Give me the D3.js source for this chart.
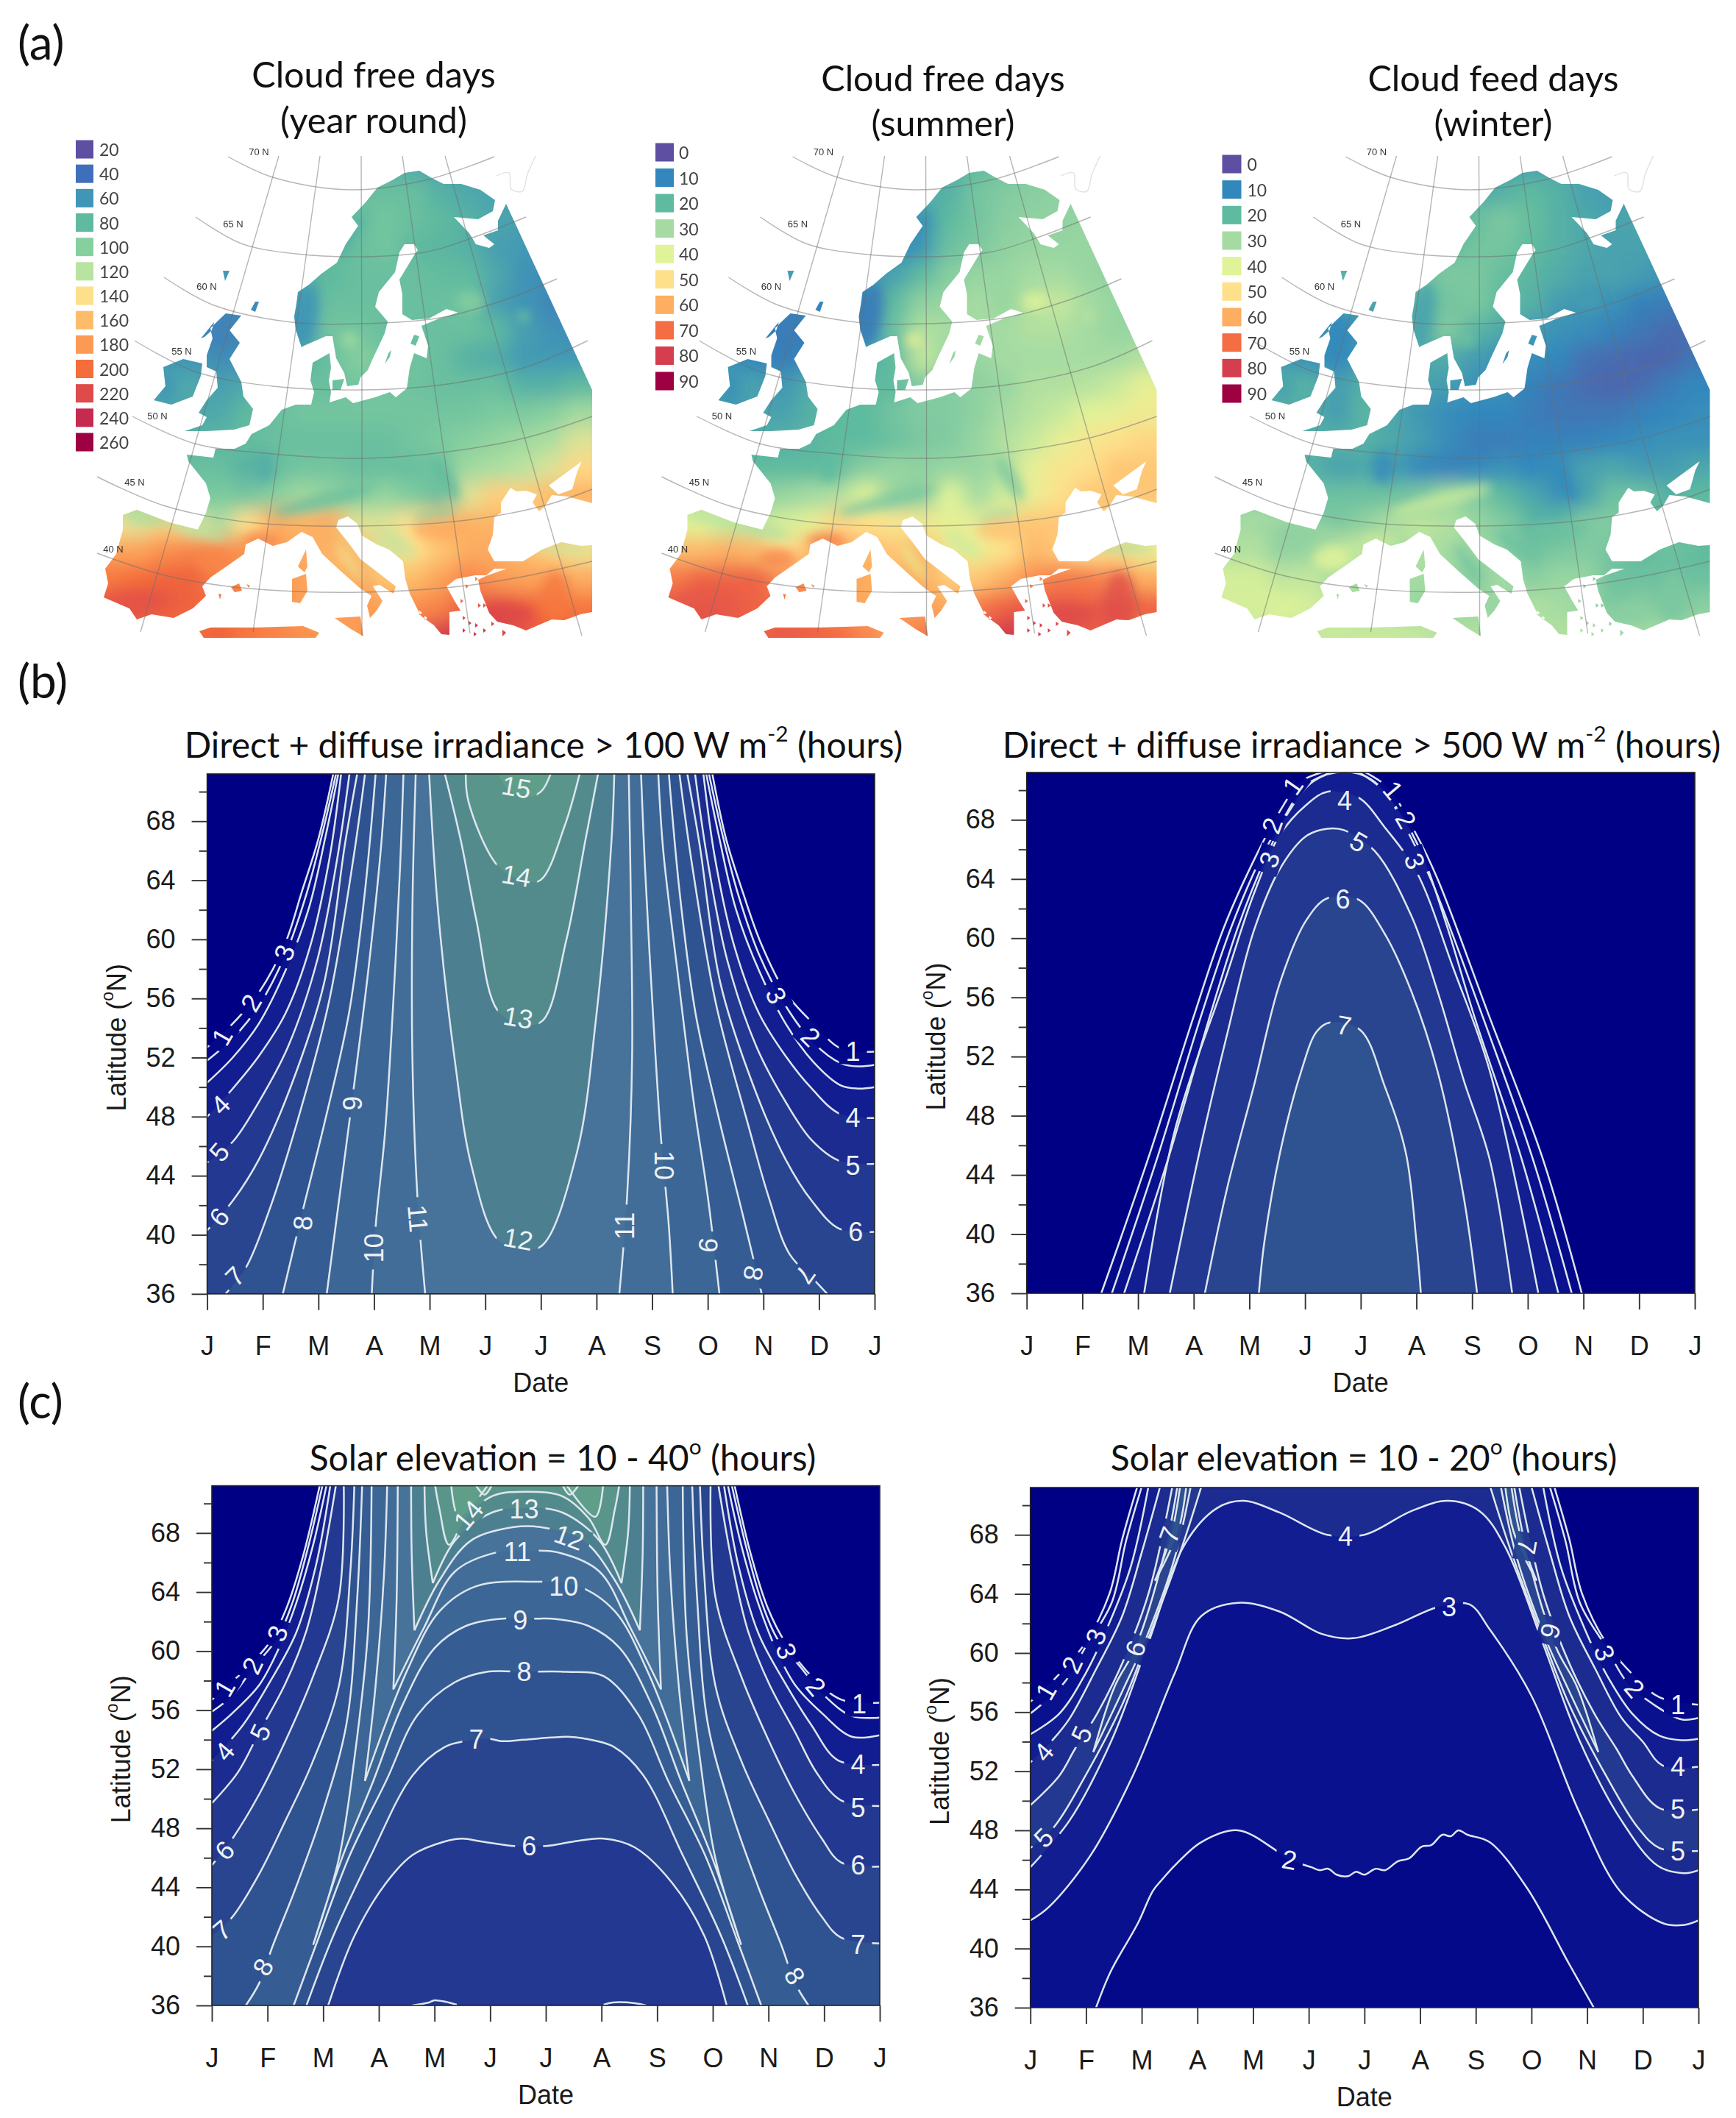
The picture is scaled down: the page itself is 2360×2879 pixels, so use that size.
<!DOCTYPE html>
<html><head><meta charset="utf-8">
<script src="https://cdn.jsdelivr.net/npm/d3@7"></script>
<style>html,body{margin:0;background:#fff}svg{display:block}</style></head>
<body><svg id="c" width="2360" height="2879"></svg>
<script>
/* ---------- labels ---------- */
const months=['J','F','M','A','M','J','J','A','S','O','N','D','J'];
const latMajor=[36,40,44,48,52,56,60,64,68];
const latMinor=[38,42,46,50,54,58,62,66,70];
const legendYear=[20,40,60,80,100,120,140,160,180,200,220,240,260];
const legendYearColors=['#5e4fa2','#3f6fba','#4096b6','#5fba9f','#86cf9f','#b9e3a0','#fee08b','#fdbc6a','#fc9a55','#f46d3a','#df4a4a','#c62a4e','#9e0142'];
const legendSeason=[0,10,20,30,40,50,60,70,80,90];
const legendSeasonColors=['#5e4fa2','#3288bd','#5fbb9f','#a5dba2','#e0f398','#fee08b','#fdae61','#f46d43','#d53e4f','#9e0142'];
const contourLevels=[0,2,3,4,5,6,8,10,11.5,12.5,14,16];
const contourColors=['#000085','#050c8b','#0c1690','#162490','#1f3190','#263f8f','#325892','#3f6a97','#47729a','#4c8090','#56908a','#62a488'];
const graticuleLabels=[['70 N',352,206],['65 N',317,304],['60 N',281,389],['55 N',247,477],['50 N',214,565],['45 N',183,655],['40 N',154,746]];

/* ---------- Europe outline and graticule, in map units ---------- */
const mainland=[[410,472],[402,448],[400,430],[403,413],[405,397],[420,387],[437,372],[458,357],[470,332],[487,307],[478,295],[497,275],[513,255],[533,245],[550,235],[570,232],[587,242],[603,250],[627,250],[653,258],[673,272],[670,287],[650,298],[617,295],[638,317],[647,332],[665,337],[672,332],[657,320],[677,313],[677,300],[688,277],[805,530],[805,684],[772,675],[750,673],[741,688],[733,695],[724,683],[730,672],[715,667],[702,668],[694,663],[681,683],[681,697],[672,703],[670,727],[663,747],[672,763],[711,763],[737,747],[763,737],[789,742],[805,741],[805,832],[789,835],[767,843],[750,842],[715,857],[698,850],[676,845],[665,833],[653,803],[650,788],[663,782],[689,773],[672,773],[661,782],[646,782],[620,787],[607,797],[618,817],[626,830],[611,832],[611,863],[600,862],[590,850],[572,837],[557,807],[551,787],[548,763],[529,747],[512,740],[492,728],[486,712],[473,702],[460,707],[457,717],[473,737],[490,760],[507,773],[538,797],[535,807],[516,795],[507,797],[520,817],[512,830],[503,840],[499,823],[505,810],[490,800],[464,777],[438,753],[425,730],[410,723],[390,737],[371,742],[351,732],[334,740],[332,753],[312,767],[286,785],[275,797],[280,810],[262,827],[236,840],[206,835],[186,842],[176,827],[141,812],[147,793],[143,773],[158,753],[167,720],[167,700],[186,693],[230,710],[269,720],[280,697],[286,677],[280,657],[256,627],[254,618],[290,622],[293,610],[319,610],[334,603],[342,590],[366,578],[383,557],[402,550],[423,550],[427,533],[422,517],[425,493],[448,480],[450,500],[447,517],[450,533],[448,547],[470,540],[480,548],[510,540],[530,533],[538,540],[553,528],[557,500],[563,480],[580,487],[582,470],[573,443],[597,433],[623,425],[607,420],[583,433],[560,435],[547,427],[547,400],[543,380],[563,347],[568,340],[563,332],[550,332],[543,343],[537,370],[515,397],[510,417],[527,437],[523,453],[507,487],[500,503],[490,513],[487,523],[472,525],[468,507],[457,487],[452,457],[443,457],[413,470]];
const islands=[
[[251,586],[275,578],[281,567],[270,561],[281,544],[296,527],[294,505],[281,499],[281,483],[289,460],[286,446],[307,426],[328,429],[312,449],[326,466],[312,488],[328,519],[331,539],[344,556],[339,578],[318,584],[281,586]],
[[209,544],[225,525],[222,499],[249,488],[275,494],[273,511],[262,539],[233,550]],
[[303,368],[312,368],[306,382]],[[341,421],[347,410],[352,410],[347,424]],[[273,460],[291,438],[288,449],[278,458]],
[[452,517],[468,515],[463,530],[452,530]],[[523,495],[528,480],[532,476],[530,485]],[[558,467],[563,455],[570,457],[565,470]],
[[405,770],[416,747],[418,770],[414,778]],[[397,787],[416,780],[418,803],[408,820],[397,818]],
[[314,798],[325,793],[329,803],[319,805]],[[297,807],[301,808],[299,815]],[[335,794],[340,796],[338,799]],
[[455,840],[490,838],[494,865],[477,855]],
[[271,858],[286,853],[347,853],[412,851],[434,860],[429,867],[277,867]],
[[633,794],[637,797],[633,800]],[[646,784],[650,787],[646,790]],[[650,820],[654,823],[650,826]],[[657,820],[661,823],[657,826]],[[626,814],[630,817],[626,820]],[[629,837],[633,840],[629,843]],[[637,844],[641,847],[637,850]],[[646,847],[650,850],[646,853]],[[657,854],[661,857],[657,860]],[[668,845],[672,848],[668,851]],[[683,856],[688,860],[683,865]],[[629,854],[633,857],[629,860]],[[644,859],[648,862],[644,865]],[[570,830],[574,833],[570,836]],[[577,837],[581,840],[577,843]]];
const lakes=[[[791,627],[785,640],[778,665],[759,672],[746,660]]];
const parallels=[
[[310,213],[371,241],[476,258],[582,244],[672,213]],
[[266,295],[328,331],[402,345],[492,349],[582,342],[651,320],[715,295]],
[[223,377],[291,415],[397,438],[492,440],[598,432],[688,407],[757,379]],
[[183,463],[265,505],[371,525],[492,530],[609,522],[715,499],[799,463]],
[[180,566],[265,603],[371,617],[492,623],[609,614],[715,595],[805,566]],
[[132,648],[222,687],[339,710],[492,715],[635,707],[741,687],[805,665]],
[[132,752],[228,783],[339,800],[492,805],[625,797],[715,783],[805,763]]];
const meridians=[[[379,212],[285,535],[191,859]],[[435,212],[390,535],[344,859]],[[491,212],[492,535],[492,864]],[[547,212],[592,535],[639,861]],[[605,212],[696,535],[791,864]]];
const russianCoast=[[675,239],[692,235],[695,257],[710,260],[717,237],[728,212]];

/* ---------- cloud-free-day fields: 18 x 18 cells ---------- */
const fieldYear=[
[70,70,70,70,70,70,70,70,72,74,74,70,68,66,64,62,60,60],
[75,75,75,75,75,75,75,78,82,84,85,85,75,70,68,65,62,60],
[75,75,75,75,75,75,75,78,82,85,90,85,80,75,68,65,60,58],
[70,70,70,70,70,70,72,75,80,85,90,80,78,75,65,62,60,56],
[60,60,60,60,60,62,65,75,80,85,85,85,82,80,70,58,55,52],
[55,55,55,55,55,55,58,62,85,85,85,85,85,90,65,60,52,52],
[55,55,55,55,50,50,55,60,90,90,85,85,85,85,80,65,58,55],
[60,60,60,60,55,58,65,75,85,100,90,88,85,75,72,62,62,62],
[70,70,70,70,65,70,78,85,85,90,90,88,85,85,85,75,75,80],
[68,68,65,70,70,80,85,90,90,90,90,90,90,90,95,95,100,110],
[75,75,75,78,78,82,85,85,85,85,85,90,95,100,105,110,115,130],
[85,85,85,85,85,75,85,90,90,85,85,85,90,110,115,120,130,145],
[110,100,95,90,95,90,100,110,105,100,105,95,85,130,150,150,160,165],
[140,130,150,130,115,140,170,165,170,130,130,140,160,165,165,160,155,150],
[175,175,185,190,185,185,175,170,165,160,130,140,155,170,170,160,150,135],
[195,200,205,205,190,185,180,175,165,170,155,160,175,190,180,175,175,170],
[215,215,210,205,200,200,190,175,175,180,175,185,190,210,215,205,200,195],
[210,205,200,200,205,195,190,185,180,178,190,205,225,240,230,215,205,205]];
const fieldSummer=[
[18,18,18,18,18,18,18,18,18,18,18,20,22,24,25,26,26,26],
[20,20,20,20,20,20,20,20,18,18,18,23,25,26,27,27,28,28],
[20,20,20,20,20,20,20,18,15,13,20,23,26,27,27,28,28,28],
[18,18,18,18,18,18,16,14,12,13,22,24,27,28,28,28,28,28],
[14,14,14,14,14,14,13,13,15,20,26,28,28,30,30,28,27,27],
[10,10,10,10,10,10,9,8,20,27,28,30,28,33,35,30,28,26],
[10,10,10,10,8,8,9,10,22,32,30,30,30,32,32,30,28,28],
[12,12,12,10,8,10,14,18,20,35,28,28,30,30,30,30,30,32],
[15,15,14,15,13,17,19,20,20,25,25,27,28,32,32,33,36,42],
[14,14,13,15,15,18,20,20,23,25,25,27,30,33,36,40,42,45],
[18,18,18,18,18,19,20,20,22,24,25,28,32,36,42,47,50,52],
[20,20,20,20,20,20,22,26,28,27,28,28,32,42,48,50,55,55],
[30,28,27,27,28,30,32,40,28,27,40,30,37,43,50,55,55,55],
[40,40,35,35,38,42,52,50,48,46,42,42,50,55,55,55,55,50],
[58,58,60,58,50,58,62,58,55,58,48,45,50,58,55,50,52,45],
[68,72,72,72,65,62,62,60,60,60,54,55,60,65,68,68,65,60],
[75,76,74,72,70,70,65,60,65,62,60,68,72,75,74,72,78,72],
[74,74,74,72,74,72,70,66,62,68,72,76,80,82,78,74,74,70]];
const fieldWinter=[
[15,15,15,15,15,15,15,15,15,15,15,15,15,15,15,15,15,15],
[18,18,18,18,18,18,18,18,18,16,18,20,18,15,14,16,15,14],
[20,20,20,20,20,20,20,22,22,22,24,21,18,16,15,16,15,14],
[20,20,20,20,20,20,20,22,22,23,23,20,18,16,15,15,14,13],
[18,18,18,18,18,18,20,22,24,24,21,19,17,15,15,14,12,11],
[15,15,15,15,15,15,16,18,23,24,20,18,14,13,12,9,8,7],
[12,12,12,12,12,12,15,18,25,19,16,14,12,11,9,7,5,5],
[13,13,13,12,10,13,15,16,17,14,12,11,10,6,5,4,4,7],
[18,18,18,18,14,18,16,15,14,12,12,9,7,5,4,5,8,10],
[17,17,17,17,14,19,16,13,11,10,10,8,7,7,7,9,10,11],
[17,17,18,18,18,18,16,14,11,8,8,9,9,9,10,11,12,12],
[20,20,18,18,15,16,14,10,9,10,12,10,12,15,16,14,14,16],
[26,25,23,22,22,22,22,24,28,25,20,16,12,15,22,22,18,20],
[30,30,27,26,24,27,32,34,32,28,25,20,20,25,25,20,20,20],
[32,32,27,28,36,35,30,32,30,28,28,22,24,25,23,20,22,20],
[38,38,34,35,30,30,30,30,28,26,30,26,28,28,22,22,22,22],
[38,38,40,38,34,30,30,28,28,28,28,32,30,28,24,26,24,26],
[36,36,36,35,36,36,36,35,32,32,30,32,32,32,30,30,30,30]];
/* smaller features: centre x, centre y, half width, half height, tilt */
const featureShapes=[[415,430,14,45,10],[475,320,10,35,35],[300,450,14,25,0],[225,525,14,20,0],[475,462,12,10,0],[640,410,18,12,0],[712,430,8,8,0],[440,680,70,10,-15],[360,635,14,22,0],[605,650,10,35,-30],[590,700,30,7,-10],[600,720,40,15,0],[540,740,30,12,35],[190,815,40,12,0],[690,835,35,15,0],[755,812,20,35,0],[268,720,40,8,15],[200,705,35,8,10],[355,735,25,10,0],[290,760,25,15,0],[760,745,40,7,0],[475,765,6,30,-35]];
const featureYear=[60,74,50,60,112,100,90,85,72,80,100,170,125,215,222,195,120,115,190,190,125,135];
const featureSummer=[8,12,8,12,42,40,34,24,20,24,30,56,37,74,77,76,32,34,68,66,32,42];
const featureWinter=[15,21,10,15,22,14,8,36,11,10,16,22,22,38,26,24,28,30,36,40,22,22];

/* ---------- contours: [month position, latitude] ---------- */
const T=71.25;
const irr100=[
{v:1,lines:[[[0,52.7],[.46,54.3],[.93,56.4],[1.41,59.8],[1.7,63.2],[2,66.8],[2.27,T],[9.08,T],[9.33,66.8],[9.63,63.2],[9.95,59.8],[10.4,56.4],[10.9,54.3],[11.4,52.6],[12,52.4]]]},
{v:2,lines:[[[0,51.8],[.46,53.3],[.93,55.5],[1.41,59],[1.78,63],[2.06,67],[2.32,T],[9.02,T],[9.27,67],[9.55,63],[9.92,59],[10.4,55.5],[10.9,53],[11.4,51.6],[11.7,51.4],[12,51.5]]]},
{v:3,lines:[[[0,50.3],[.46,52],[.93,54.3],[1.41,57.9],[1.82,62],[2.13,67],[2.36,T],[8.97,T],[9.2,67],[9.51,62],[9.92,57.9],[10.4,54.3],[10.9,51.7],[11.4,50.1],[11.7,49.9],[12,50]]]},
{v:4,lines:[[[0,48],[.46,49.9],[.93,52.1],[1.41,55],[1.85,59.5],[2.2,65.5],[2.41,T],[8.92,T],[9.13,65.5],[9.48,59.5],[9.92,55],[10.4,52.1],[10.87,49.9],[11.37,48.2],[12,47.9]]]},
{v:5,lines:[[[0,44.9],[.46,46.3],[.93,49],[1.45,52.7],[1.98,58.6],[2.34,65.5],[2.56,T],[8.77,T],[8.99,65.5],[9.35,58.6],[9.88,52.7],[10.4,49],[10.87,46.4],[11.37,45],[12,44.8]]]},
{v:6,lines:[[[0,40.3],[.46,42.3],[.93,45.1],[1.5,50],[2.1,57],[2.48,66.5],[2.70,T],[8.63,T],[8.85,66.5],[9.23,57],[9.83,50],[10.4,45.1],[10.87,42.3],[11.37,40.4],[12,40.2]]]},
{v:7,lines:[[[.33,36],[.7,37.8],[1.12,41.7],[1.6,47.4],[2.18,55.6],[2.63,65.5],[2.84,T],[8.49,T],[8.7,65.5],[9.15,55.6],[9.73,47.4],[10.1,42.5],[10.47,38.7],[10.95,36.8],[11.15,36]]]},
{v:8,lines:[[[1.36,36],[1.69,41.2],[2.15,48.2],[2.55,55],[2.83,63],[3.03,T],[8.3,T],[8.5,63],[8.78,55],[9.18,48.2],[9.64,41.2],[9.97,36]]]},
{v:9,lines:[[[2.15,36],[2.38,42.6],[2.6,48.9],[2.9,58],[3.12,66],[3.22,T],[8.11,T],[8.2,66],[8.45,58],[8.75,48.9],[9,42.6],[9.21,36]]]},
{v:10,lines:[[[2.96,36],[3.03,40.6],[3.2,47],[3.35,56],[3.47,65],[3.53,T],[7.8,T],[7.87,65],[8,56],[8.15,47],[8.3,40.6],[8.37,36]]]},
{v:11,lines:[[[3.92,36],[3.78,42.6],[3.69,52],[3.69,62],[3.75,T],[7.58,T],[7.62,62],[7.64,52],[7.55,42.6],[7.41,36]]]},
{v:12,lines:[[[3.99,T],[4.15,62],[4.46,51.6],[4.75,44.7],[5.22,39.7],[5.67,39],[6.03,39.3],[6.65,45.6],[6.99,54.6],[7.27,66.7],[7.32,T]]]},
{v:13,lines:[[[4.27,T],[4.56,66.7],[4.84,61.3],[5.22,55.2],[5.67,54.2],[6.03,54.5],[6.46,60],[6.8,66.7],[7.03,T]]]},
{v:14,lines:[[[4.65,T],[4.7,69.3],[5.22,65],[5.67,64],[5.99,64],[6.42,67.6],[6.7,T]]]},
{v:15,lines:[[[5.22,T],[5.4,70.2],[5.7,69.6],[6,70],[6.18,T]]]}];
const irr100Labels=[['1',.27,53.4,-60],['2',.79,55.7,-60],['3',1.39,59.1,-70],['4',.24,48.8,-45],['5',.22,45.6,-50],['6',.22,41.2,-50],['7',.5,37.2,-45],['8',1.72,40.8,-85],['9',2.62,48.9,-90],['10',3,39.1,-90],['11',3.79,41.1,85],['12',5.59,39.7,10],['13',5.59,54.7,10],['14',5.56,64.3,10],['15',5.56,70.3,10],['11',7.51,40.6,-90],['10',8.21,44.7,90],['9',9.01,39.3,95],['8',9.82,37.4,100],['7',10.75,37.3,125],['6',11.66,40.2,0],['5',11.61,44.7,0],['4',11.61,47.9,0],['1',11.61,52.4,0],['2',10.85,53.4,45],['3',10.23,56.2,65]];

const irr500=[
{v:1,lines:[[[1.34,36],[2.19,45.2],[2.99,54.6],[3.55,60.8],[4.15,65.8],[4.55,68.6],[4.93,70.6],[5.35,T],[6.06,T],[6.48,70.2],[7,67],[7.38,64],[8.32,54.6],[9.26,45.2],[9.97,36]]]},
{v:2,lines:[[[1.53,36],[2.35,45.2],[3.12,54.6],[3.68,60.8],[4.23,65.6],[4.6,68],[5,70.3],[5.5,T],[5.95,T],[6.4,70],[6.9,66.8],[7.28,63.8],[8.2,54.6],[9.08,45.2],[9.79,36]]]},
{v:3,lines:[[[1.75,36],[2.55,45.2],[3.28,54.6],[3.8,60.8],[4.3,65.5],[4.7,68.5],[5.15,70.6],[5.7,T],[6.2,70.7],[6.7,68.5],[7.12,65.5],[7.55,60.8],[8.05,54.6],[8.88,45.2],[9.55,36]]]},
{v:4,lines:[[[2.11,36],[2.66,47],[3.6,57.6],[4.08,63],[4.55,67],[5.02,69],[5.4,69.9],[5.96,69.5],[6.43,67.5],[7,64.5],[7.66,58],[8.32,51],[9.19,36]]]},
{v:5,lines:[[[2.57,36],[3.13,46],[3.6,53.5],[4.08,60.5],[4.55,64.7],[5.02,66.9],[5.4,67.4],[5.7,67.3],[6.25,65.9],[6.91,61.5],[7.38,56.4],[7.85,50.4],[8.32,45],[8.72,36]]]},
{v:6,lines:[[[3.2,36],[3.6,43.1],[4.08,50],[4.55,57],[5.02,61.2],[5.4,62.7],[5.96,62.6],[6.43,60.3],[6.91,56.4],[7.38,51],[7.85,42.5],[8.09,36]]]},
{v:7,lines:[[[4.17,36],[4.27,39.5],[4.55,45.5],[4.93,51],[5.21,53.7],[5.44,54.3],[5.99,53.8],[6.43,50],[6.81,45.5],[7,39.5],[7.08,36]]]}];
const irr500Labels=[['1',4.78,70.3,-55],['2',4.41,67.6,-70],['3',4.36,65.3,-70],['4',5.71,69.3,0],['5',5.96,66.5,30],['6',5.68,62.6,0],['7',5.7,54.1,10],['1',6.58,70,50],['2',6.81,68,60],['3',6.97,65.2,70]];

const elev40=[
{v:1,lines:[[[0,56.7],[.23,57.5],[.56,58.6],[1.04,60.6],[1.35,63],[1.65,66.6],[1.94,T],[9.39,T],[9.68,66.6],[9.98,63],[10.3,60.6],[10.8,58.2],[11.32,56.7],[12,56.5]]]},
{v:2,lines:[[[0,55.9],[.37,57],[.75,58.9],[1.18,60.9],[1.45,63.3],[1.72,66.9],[1.99,T],[9.34,T],[9.61,66.9],[9.88,63.3],[10.15,60.9],[10.58,58.9],[11,57],[11.5,55.6],[12,55.5]]]},
{v:3,lines:[[[0,54.6],[.37,55.8],[.85,57.7],[1.18,60],[1.52,63.3],[1.82,67.2],[2.06,T],[9.27,T],[9.51,67.2],[9.81,63.3],[10.15,60],[10.48,57.7],[10.96,55.8],[11.5,54.2],[12,54.3]]]},
{v:4,lines:[[[0,52.6],[.56,55],[1.04,57.9],[1.51,61.2],[1.87,65.8],[2.13,T],[9.2,T],[9.46,65.8],[9.82,61.2],[10.29,57.9],[10.77,55],[11.25,52.6],[12,52.3]]]},
{v:5,lines:[[[0,49.7],[.47,51.8],[.85,54.5],[1.32,57.8],[1.7,61.4],[1.98,65.9],[2.23,T],[9.1,T],[9.35,65.9],[9.63,61.4],[10.01,57.8],[10.48,54.5],[10.86,51.8],[11.3,49.9],[12,49.5]]]},
{v:6,mode:'arc',lines:[[[0,45.5],[.37,47.3],[.85,50.3],[1.32,53.9],[1.8,58.1],[2.28,63.6],[2.37,T],[8.96,T],[9.05,63.6],[9.53,58.1],[10.01,53.9],[10.48,50.3],[10.96,47.3],[11.3,45.7],[12,45.4]],
 [[2.09,36],[2.56,40.7],[3.13,44.3],[3.61,46.2],[4.18,47.1],[4.5,47.3],[4.85,47.1],[5.42,46.8],[6,46.8],[6.5,47.1],[7.04,47.3],[7.6,46.7],[8.27,44.3],[8.85,40.7],[9.25,36]]]},
{v:7,mode:'arc',lines:[[[0,40.7],[.37,42],[.85,44.9],[1.32,48.5],[1.8,52.4],[2.28,57.6],[2.49,65.5],[2.56,T],[8.77,T],[8.84,65.5],[9.05,57.6],[9.53,52.4],[10.01,48.5],[10.48,44.9],[10.96,42],[11.3,40.6],[12,40.2]],
 [[1.7,36],[2.18,40.7],[2.85,46.1],[3.61,51.6],[4.18,53.5],[4.56,53.9],[5,54.05],[5.2,53.9],[5.61,54],[6.1,54.15],[6.4,54.2],[6.66,54.1],[7.23,53.5],[7.75,51.6],[8.47,46.1],[9.15,40.7],[9.63,36]]]},
{v:8,mode:'arc',lines:[[[.61,36],[.85,37.5],[1.09,40],[1.51,44],[1.99,49.1],[2.42,55.1],[2.61,63.5],[2.7,T],[8.63,T],[8.72,63.5],[8.91,55.1],[9.34,49.1],[9.82,44],[10.24,40],[10.48,37.5],[10.72,36]],
 [[1.47,36],[1.9,40.4],[2.47,46.1],[3.13,51.2],[3.7,55.7],[4.37,57.9],[4.94,58.6],[5.61,58.6],[6.37,58.6],[7.04,58.3],[7.66,55.7],[8.2,51.2],[8.87,46.1],[9.44,40.4],[9.87,36]]]},
{v:9,lines:[[[2.87,T],[2.8,61.1],[2.56,52.7],[2.28,45.9],[1.82,40.1],[2.33,45.9],[2.9,51.2],[3.42,56.3],[4,60.2],[4.56,61.7],[5.23,62.2],[5.85,62.2],[6.1,62.2],[6.77,61.7],[7.33,60.2],[7.91,56.3],[8.43,51.2],[9,45.9],[9.51,40.1],[9.05,45.9],[8.77,52.7],[8.53,61.1],[8.46,T]]]},
{v:10,lines:[[[3.15,T],[3.09,65],[2.94,57.6],[2.75,51.2],[3.51,58.7],[4.09,62.7],[4.75,64.4],[5.8,64.7],[6.58,64.4],[7.24,62.7],[7.82,58.7],[8.58,51.2],[8.39,57.6],[8.24,65],[8.18,T]]]},
{v:11,lines:[[[3.34,T],[3.32,63.6],[3.26,57.4],[3.8,61.5],[4.37,65.4],[5.13,66.7],[5.67,66.8],[6.2,66.7],[6.96,65.4],[7.53,61.5],[8.07,57.4],[8.01,63.6],[7.99,T]]]},
{v:12,lines:[[[3.58,T],[3.59,66.6],[3.64,61.4],[4.09,64.8],[4.66,67.5],[5.42,68.4],[5.9,68.4],[6.67,67.5],[7.24,64.8],[7.69,61.4],[7.74,66.6],[7.75,T]]]},
{v:13,lines:[[[3.82,T],[3.85,68.1],[3.97,64.6],[4.37,67.5],[5.04,69.4],[5.67,69.7],[6.29,69.4],[6.96,67.5],[7.36,64.6],[7.48,68.1],[7.51,T]]]},
{v:14,lines:[[[4.01,T],[4.09,69.6],[4.26,67.2],[4.56,69],[5.04,70.5],[5.67,70.8],[6.29,70.5],[6.77,69],[7.07,67.2],[7.24,69.6],[7.32,T]]]},
{v:15,lines:[[[4.3,T],[4.44,69.1],[4.96,T]],[[6.37,T],[6.89,69.1],[7.03,T]]]},
{v:16,lines:[[[4.74,T],[4.9,70.6],[5.03,T]],[[6.3,T],[6.43,70.6],[6.59,T]]]}];
const elev40Extra=[[[3.6,36],[3.9,36.2],[4,36.35],[4.2,36.25],[4.4,36.05]],[[7.04,36.05],[7.2,36.2],[7.6,36.15],[7.8,36]]];
const elev40Labels=[['1',.23,57.5,-60],['2',.73,59,-65],['3',1.18,61.2,-70],['4',.23,53.2,-50],['5',.87,54.5,-65],['6',.23,46.5,-45],['7',.18,41.1,-40],['8',.92,38.6,-60],['14',4.61,69.2,-50],['13',5.61,69.6,0],['12',6.42,67.7,20],['11',5.49,66.7,0],['10',6.32,64.4,0],['9',5.54,62.1,0],['8',5.61,58.6,0],['7',4.75,54,0],['6',5.7,46.8,0],['3',10.32,60,70],['2',10.85,57.6,50],['1',11.63,56.4,0],['4',11.61,52.3,0],['5',11.61,49.4,0],['6',11.61,45.5,0],['7',11.61,40.1,0],['8',10.47,38,60]];

const elev20=[
{v:1,lines:[[[0,56.7],[.5,58.5],[.99,60.7],[1.42,64],[1.65,67.7],[1.92,T],[9.41,T],[9.68,67.7],[9.91,64],[10.34,60.7],[10.83,58.5],[11.3,57],[12,56.5]]]},
{v:2,mode:'arc',lines:[[[0,55.9],[.61,58],[.99,60.4],[1.46,63.4],[1.72,67.6],[2,T],[9.33,T],[9.61,67.6],[9.87,63.4],[10.34,60.4],[10.72,58],[11.2,56.5],[11.7,55.5],[12,55.6]],
 [[1.18,36],[1.45,38.5],[1.93,41.7],[2.2,43.9],[2.35,44.6],[2.59,45.6],[3.07,47.2],[3.73,48],[4.39,46.7],[4.6,46.1],[5.05,45.5],[5.2,45.3],[5.35,45.4],[5.5,45],[5.71,44.9],[5.85,45.2],[6,45],[6.2,45.4],[6.37,45.3],[6.6,45.9],[6.8,46.1],[7.03,46.9],[7.2,47],[7.4,47.7],[7.55,47.6],[7.69,48],[7.85,47.7],[8.25,47.2],[8.92,44.1],[9.67,39],[10.12,36]]]},
{v:3,mode:'arc',lines:[[[0,54.5],[.52,55.9],[.99,58.6],[1.37,61.6],[1.8,65.8],[2.12,T],[9.21,T],[9.53,65.8],[9.96,61.6],[10.34,58.6],[10.81,55.9],[11.3,54.4],[11.7,54.1],[12,54.2]],
 [[0,41.9],[.33,42.8],[1.08,46.3],[1.84,51.7],[2.59,58.6],[3.07,62.5],[3.73,63.4],[4.48,62.8],[5.23,61.3],[5.8,61],[6.56,61.9],[7.31,63.1],[7.88,63.3],[8.25,61.6],[9,57.1],[9.85,49.3],[10.61,43.8],[11.37,41.7],[11.75,41.6],[12,41.9]]]},
{v:4,mode:'arc',lines:[[[0,52.6],[.42,54.2],[.71,55.6],[1.18,58.9],[1.65,62.5],[2,66.8],[2.33,T],[9,T],[9.33,66.8],[9.68,62.5],[10.15,58.9],[10.62,55.6],[11,54],[11.35,52.4],[12,52.3]],
 [[0,45.5],[.71,48.7],[1.46,54.1],[2.12,60.7],[2.78,67.4],[3.35,69.8],[3.82,70.3],[4.48,69.5],[5.33,68],[6,68],[6.84,69.6],[7.5,70.3],[8.07,69.6],[8.54,67.1],[9.2,60.7],[9.86,54.1],[10.61,48.7],[11.27,45.6],[11.75,45.1],[12,45.3]]]},
{v:5,mode:'pair',lines:[[[0,49.7],[.52,51.7],[.8,53.5],[1.2,55.9],[1.65,59.3],[2.12,64],[2.55,T]],
 [[0,46.8],[.42,48.2],[.99,51.7],[1.65,56.5],[2.03,60.1],[2.69,66.8],[3.07,T]],
 [[8.78,T],[9.21,64],[9.68,59.3],[10.13,55.9],[10.53,53.5],[10.81,51.7],[11.3,49.5],[12,49.4]],
 [[8.26,T],[8.64,66.8],[9.3,60.1],[9.68,56.5],[10.34,51.7],[10.91,48.2],[11.3,46.8],[12,46.6]]]},
{v:6,mode:'pair',lines:[[[1.13,53.3],[1.51,57.7],[1.89,60.4],[2.41,66.8],[2.64,T]],
 [[1.13,53.3],[1.65,57.4],[2.08,61],[2.59,66.4],[2.88,T]],
 [[8.69,T],[8.92,66.8],[9.44,60.4],[9.82,57.7],[10.2,53.3]],
 [[8.45,T],[8.74,66.4],[9.25,61],[9.68,57.4],[10.2,53.3]]]},
{v:7,mode:'pair',lines:[[[2.24,64.9],[2.53,68],[2.69,T]],[[2.24,64.9],[2.65,68.2],[2.8,T]],
 [[8.64,T],[8.8,68],[9.09,64.9]],[[8.53,T],[8.68,68.2],[9.09,64.9]]]}];
const elev20Labels=[['1',.28,57.4,-60],['2',.75,59.2,-65],['3',1.18,61.1,-70],['6',1.89,60.3,-70],['7',2.5,68,-70],['4',.24,53.3,-50],['5',.92,54.5,-65],['5',.24,47.5,-45],['4',5.66,67.9,0],['3',7.52,63.1,0],['2',4.65,46,10],['7',8.92,67.2,100],['6',9.34,61.5,105],['3',10.31,60,70],['2',10.85,57.6,50],['1',11.63,56.5,0],['4',11.63,52.3,0],['5',11.63,49.4,0],['5',11.63,46.6,0]];

/* ---------- drawing ---------- */
const svg=d3.select('#c');
const defs=svg.append('defs');
const SERIF='Lato, Carlito, sans-serif', ARIAL='"Liberation Sans", Arial, sans-serif';
defs.append('filter').attr('id','soft').attr('x','-10%').attr('y','-10%').attr('width','120%').attr('height','120%')
  .append('feGaussianBlur').attr('stdDeviation',13);
defs.append('filter').attr('id','soft2').attr('x','-30%').attr('y','-30%').attr('width','160%').attr('height','160%')
  .append('feGaussianBlur').attr('stdDeviation',7);

function title(lines,cx,ys,size){lines.forEach((t,i)=>svg.append('text').attr('x',cx).attr('y',ys[i]).attr('text-anchor','middle').attr('dominant-baseline','central').attr('font-family',SERIF).attr('font-size',size).attr('fill','#111').text(t));}
function panelTag(t,x,y){svg.append('text').attr('x',x).attr('y',y).attr('dominant-baseline','central').attr('font-family',SERIF).attr('font-size',64).attr('fill','#111').text(t);}
panelTag('(a)',24,56);panelTag('(b)',24,924);panelTag('(c)',24,1903);

function drawMap(id,offset,field,features,colorScale,legendVals,legendCols,leg){
  const x=d3.scaleLinear().domain([0,805]).range([offset,805+offset]);
  const y=d3.scaleLinear().domain([0,880]).range([0,880]);
  const poly=d3.line().x(d=>x(d[0])).y(d=>y(d[1]));
  const outline=[mainland,...islands,...lakes].map(p=>poly(p)+'Z').join('');
  defs.append('clipPath').attr('id','land'+id).append('path').attr('d',outline).attr('clip-rule','evenodd');
  const g=svg.append('g');
  const gx=d3.scaleLinear().domain([0,18]).range([x(130),x(805)]);
  const gy=d3.scaleLinear().domain([0,18]).range([y(205),y(880)]);
  const cells=field.flatMap((row,r)=>row.map((v,c)=>({r,c,v})));
  const land=g.append('g').attr('clip-path',`url(#land${id})`);
  land.append('g').attr('filter','url(#soft)')
    .selectAll('rect').data(cells).join('rect')
    .attr('x',d=>gx(d.c)-(d.c==0?50:0)).attr('y',d=>gy(d.r)-(d.r==0?50:0))
    .attr('width',d=>gx(1)-gx(0)+1+(d.c==0||d.c==17?50:0)).attr('height',d=>gy(1)-gy(0)+1+(d.r==0||d.r==17?50:0))
    .attr('fill',d=>colorScale(d.v));
  land.append('g').attr('filter','url(#soft2)').attr('opacity',.8).selectAll('ellipse').data(featureShapes).join('ellipse')
    .attr('rx',d=>d[2]).attr('ry',d=>d[3]).attr('transform',d=>`translate(${x(d[0])},${y(d[1])}) rotate(${d[4]})`)
    .attr('fill',(d,i)=>colorScale(features[i]));
  const curve=d3.line().x(d=>x(d[0])).y(d=>y(d[1])).curve(d3.curveCatmullRom.alpha(.5));
  g.append('path').attr('d',curve(russianCoast)).attr('fill','none').attr('stroke','#e2e2e2').attr('stroke-width',1.5);
  g.selectAll('.grat').data([...parallels,...meridians]).join('path').attr('d',curve).attr('fill','none')
    .attr('stroke','#6e6e6e').attr('stroke-opacity',.5).attr('stroke-width',1.4);
  g.selectAll('.gl').data(graticuleLabels).join('text').attr('x',d=>x(d[1])).attr('y',d=>y(d[2])).attr('text-anchor','middle').attr('dominant-baseline','central')
    .attr('font-family',ARIAL).attr('font-size',13).attr('fill','#333').text(d=>d[0]);
  const ly=d3.scalePoint().domain(legendVals).range([leg.y0,leg.y1]);
  const lg=svg.append('g');
  lg.selectAll('rect').data(legendVals).join('rect').attr('x',leg.x).attr('y',d=>ly(d)-12.5).attr('width',leg.w).attr('height',25).attr('fill',(d,i)=>legendCols[i]);
  lg.selectAll('text').data(legendVals).join('text').attr('x',leg.x+leg.w+leg.pad).attr('y',d=>ly(d)).attr('dominant-baseline','central')
    .attr('font-family',SERIF).attr('font-size',23).attr('fill','#444').text(d=>d);
}
const cYear=d3.scaleLinear().domain(legendYear).range(legendYearColors).clamp(true);
const cSeason=d3.scaleLinear().domain(legendSeason).range(legendSeasonColors).clamp(true);
drawMap('A',0,fieldYear,featureYear,cYear,legendYear,legendYearColors,{x:103,w:24,pad:8,y0:203,y1:601});
drawMap('B',767.5,fieldSummer,featureSummer,cSeason,legendSeason,legendSeasonColors,{x:891,w:25,pad:7,y0:207,y1:518});
drawMap('C',1519.5,fieldWinter,featureWinter,cSeason,legendSeason,legendSeasonColors,{x:1661.5,w:26,pad:8,y0:223,y1:535});
title(['Cloud free days','(year round)'],508,[100,162],48.5);
title(['Cloud free days','(summer)'],1282,[105,166],48.5);
title(['Cloud feed days','(winter)'],2030,[105,166],48.5);

const cLevel=d3.scaleLinear().domain(contourLevels).range(contourColors);

function superTitle(parts,cx,cy,size){
  const t=svg.append('text').attr('x',cx).attr('y',cy).attr('text-anchor','middle').attr('dominant-baseline','central').attr('font-family',SERIF).attr('font-size',size).attr('fill','#111');
  parts.forEach(p=>{const s=t.append('tspan').text(p.t);if(p.sup){s.attr('font-size',size*.62).attr('dy',-size*.32);}else if(p.after){s.attr('dy',size*.32);}});
}

function drawContour(id,box,levels,labels,extra){
  const x=d3.scaleLinear().domain([0,12]).range([box.l,box.r]);
  const y=d3.scaleLinear().domain([36,71.2]).range([box.b,box.t]);
  const g=svg.append('g');
  defs.append('clipPath').attr('id','plot'+id).append('rect').attr('x',box.l).attr('y',box.t).attr('width',box.r-box.l).attr('height',box.b-box.t);
  const gen=d3.line().x(d=>x(d[0])).y(d=>y(d[1])).curve(d3.curveCatmullRom.alpha(.5));
  // limbs leaving through the top edge are not smoothed together, and V tips stay sharp
  const sharp=(a,b,c)=>{const u=[x(a[0])-x(b[0]),y(a[1])-y(b[1])],v=[x(c[0])-x(b[0]),y(c[1])-y(b[1])];
    return (u[0]*v[0]+u[1]*v[1])/(Math.hypot(...u)*Math.hypot(...v))>.7;};
  const runs=pts=>{const out=[[pts[0]]];for(let i=1;i<pts.length;i++){
      const prev=pts[i-1],cur=pts[i];
      if(prev[1]>=T&&cur[1]>=T){out.push([cur]);continue;}
      out[out.length-1].push(cur);
      if(i<pts.length-1&&sharp(prev,cur,pts[i+1]))out.push([cur]);}
    return out;};
  const stroke=pts=>runs(pts).map(r=>r.length>1?gen(r):'').join('');
  const join=pts=>runs(pts).map(r=>{const s=r.length>1?gen(r):`M${x(r[0][0])},${y(r[0][1])}`;return 'L'+s.slice(1);}).join('');
  const at=(p)=>`L${x(p[0])},${y(p[1])}`;
  const area=pl=>{ // closed outline of everything at or above one level
    const rings=[];
    if(pl.mode==='arc'){
      const [o,a]=pl.lines;const rev=a.slice().reverse();
      let s=join(o);
      if(rev[0][1]===36)s+=at([o[o.length-1][0],36]);
      s+=join(rev);
      if(rev[rev.length-1][1]===36)s+=at([o[0][0],36]);
      rings.push(s);
    }else if(pl.mode==='pair'){
      for(let i=0;i<pl.lines.length;i+=2){rings.push(join(pl.lines[i])+join(pl.lines[i+1].slice().reverse()));}
    }else{
      pl.lines.forEach(l=>{const f=l[0],e=l[l.length-1];
        rings.push(f[1]>=T&&e[1]>=T?join(l):join(l)+at([e[0],36])+at([f[0],36]));});
    }
    return rings.map(s=>'M'+s.slice(1)+'Z').join('');
  };
  const field=g.append('g').attr('clip-path',`url(#plot${id})`);
  field.append('rect').attr('x',box.l).attr('y',box.t).attr('width',box.r-box.l).attr('height',box.b-box.t).attr('fill',cLevel(0));
  field.selectAll('path').data(levels).join('path').attr('d',area).attr('fill',d=>cLevel(d.v+.5));
  // the masks open a gap in the lines behind each contour label
  const mask=defs.append('mask').attr('id','gap'+id).attr('maskUnits','userSpaceOnUse').attr('x',box.l-5).attr('y',box.t-5).attr('width',box.r-box.l+10).attr('height',box.b-box.t+10);
  mask.append('rect').attr('x',box.l-5).attr('y',box.t-5).attr('width',box.r-box.l+10).attr('height',box.b-box.t+10).attr('fill','#fff');
  mask.selectAll('.m').data(labels).join('rect').attr('fill','#000')
    .attr('x',d=>-(d[0].length*10+9)).attr('y',-17).attr('width',d=>2*(d[0].length*10+9)).attr('height',34)
    .attr('transform',d=>`translate(${x(d[1])},${y(d[2])}) rotate(${d[3]})`);
  const lineG=field.append('g').attr('mask',`url(#gap${id})`).attr('fill','none').attr('stroke','#dde6ee').attr('stroke-width',2.5);
  lineG.selectAll('path').data(levels.flatMap(l=>l.lines).concat(extra||[])).join('path').attr('d',stroke);
  field.selectAll('text').data(labels).join('text').attr('text-anchor','middle').attr('dominant-baseline','central')
    .attr('font-family',ARIAL).attr('font-size',36).attr('fill','#eef1f4')
    .attr('transform',d=>`translate(${x(d[1])},${y(d[2])}) rotate(${d[3]})`).text(d=>d[0]);
  g.append('rect').attr('x',box.l).attr('y',box.t).attr('width',box.r-box.l).attr('height',box.b-box.t).attr('fill','none').attr('stroke','#222').attr('stroke-width',1.6);
  const fmt=s=>s.call(a=>a.select('.domain').remove()).call(a=>a.selectAll('line').attr('stroke','#333').attr('stroke-width',1.9))
    .call(a=>a.selectAll('text').attr('font-family',ARIAL).attr('font-size',36).attr('fill','#1a1a1a'));
  g.append('g').attr('transform',`translate(${box.l},0)`).call(d3.axisLeft(y).tickValues(latMajor).tickSize(21).tickPadding(22)).call(fmt);
  g.append('g').attr('transform',`translate(${box.l},0)`).call(d3.axisLeft(y).tickValues(latMinor).tickSize(11).tickFormat('')).call(fmt);
  g.append('g').attr('transform',`translate(0,${box.b})`).call(d3.axisBottom(x).tickValues(d3.range(13)).tickSize(22).tickPadding(36).tickFormat(i=>months[i])).call(fmt);
  g.append('text').attr('x',(box.l+box.r)/2).attr('y',box.b+121).attr('text-anchor','middle').attr('dominant-baseline','central')
    .attr('font-family',ARIAL).attr('font-size',36).attr('fill','#1a1a1a').text('Date');
  const lat=g.append('text').attr('transform',`translate(${box.l-124},${(box.t+box.b)/2+5}) rotate(-90)`).attr('text-anchor','middle').attr('dominant-baseline','central')
    .attr('font-family',ARIAL).attr('font-size',36).attr('fill','#1a1a1a');
  lat.append('tspan').text('Latitude (');lat.append('tspan').text('o').attr('font-size',23).attr('dy',-12);lat.append('tspan').text('N)').attr('dy',12);
}
drawContour('b1',{l:281.6,r:1189,t:1052,b:1758.8},irr100,irr100Labels);
drawContour('b2',{l:1395.7,r:2304,t:1050,b:1758},irr500,irr500Labels);
drawContour('c1',{l:288,r:1196,t:2019.6,b:2726},elev40,elev40Labels,elev40Extra);
drawContour('c2',{l:1400.7,r:2309,t:2022,b:2729},elev20,elev20Labels);
superTitle([{t:'Direct + diffuse irradiance > 100 W m'},{t:'-2',sup:1},{t:' (hours)',after:1}],739,1011,48);
superTitle([{t:'Direct + diffuse irradiance > 500 W m'},{t:'-2',sup:1},{t:' (hours)',after:1}],1851,1011,48);
superTitle([{t:'Solar elevation = 10 - 40'},{t:'o',sup:1},{t:' (hours)',after:1}],765,1980,48);
superTitle([{t:'Solar elevation = 10 - 20'},{t:'o',sup:1},{t:' (hours)',after:1}],1854,1980,48);
</script></body></html>
